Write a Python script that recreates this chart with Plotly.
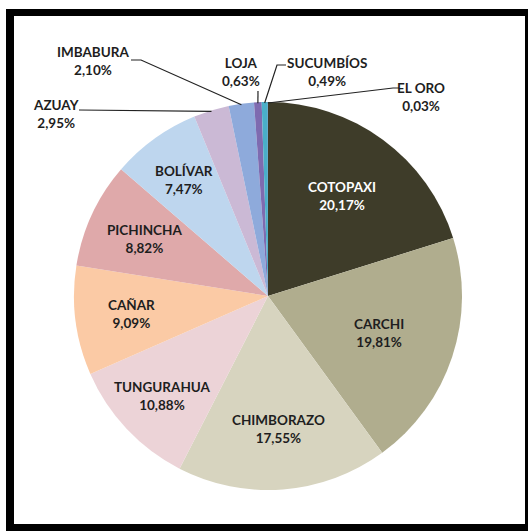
import math
import plotly.graph_objects as go

# Share by province (%)
provinces = ["COTOPAXI", "CARCHI", "CHIMBORAZO", "TUNGURAHUA", "CAÑAR", "PICHINCHA",
             "BOLÍVAR", "AZUAY", "IMBABURA", "LOJA", "SUCUMBÍOS", "EL ORO"]
shares = [20.17, 19.81, 17.55, 10.88, 9.09, 8.82, 7.47, 2.95, 2.10, 0.63, 0.49, 0.03]
colors = ["#3e3c29", "#b0ad8e", "#d7d4bf", "#ecd3d7", "#fbcaa5", "#dfa9aa",
          "#bed6ee", "#cbb9d5", "#8eaadb", "#7e6bb0", "#4aafc8", "#2e75b6"]

W, H = 528, 531
CX, CY, R = 268, 296, 194  # pie centre and radius in pixels


def px(x):
    return x / W


def py(y):
    return 1 - y / H


def pct(v):
    return f"{v:.2f}".replace(".", ",") + "%"


total = sum(shares)
mid_angles = []
acc = 0.0
for v in shares:
    mid_angles.append((acc + v / 2) / total * 2 * math.pi)
    acc += v


def on_pie(i, frac):
    a = mid_angles[i]
    return CX + frac * R * math.sin(a), CY - frac * R * math.cos(a)


fig = go.Figure(go.Pie(
    labels=provinces,
    values=shares,
    sort=False,
    direction="clockwise",
    rotation=0,
    marker=dict(colors=colors, line=dict(width=0)),
    textinfo="none",
    hoverinfo="label+percent",
    domain=dict(x=[px(CX - R), px(CX + R)], y=[py(CY + R), py(CY - R)]),
    showlegend=False,
))

font = dict(family="Lato", size=13.5, color="#1e1e1e")
annotations = []

# labels drawn inside the large slices (radial fraction of the radius)
inside_frac = {0: 0.64, 1: 0.60, 2: 0.69, 3: 0.75, 4: 0.71, 5: 0.70, 6: 0.74}
for i, f in inside_frac.items():
    x, y = on_pie(i, f)
    fnt = dict(font)
    if i == 0:
        fnt["color"] = "#ffffff"
    annotations.append(dict(
        x=px(x), y=py(y), xref="paper", yref="paper",
        text=f"<b>{provinces[i]}</b><br><b>{pct(shares[i])}</b>",
        showarrow=False, font=fnt, align="center",
        xanchor="center", yanchor="middle",
    ))

# small slices: labels outside with leader lines
outside = {
    7: ((56, 114), [(79, 110)]),
    8: ((93, 61), [(131, 60), (141, 60)]),
    9: ((241, 72), [(258, 91)]),
    10: ((327, 72), [(286, 65), (277, 65)]),
    11: ((421, 97), [(399, 88), (393, 88)]),
}
shapes = []
for i, ((lx, ly), pts) in outside.items():
    annotations.append(dict(
        x=px(lx), y=py(ly), xref="paper", yref="paper",
        text=f"<b>{provinces[i]}</b><br><b>{pct(shares[i])}</b>",
        showarrow=False, font=font, align="center",
        xanchor="center", yanchor="middle",
    ))
    ex, ey = on_pie(i, 0.995)
    path_pts = pts + [(ex, ey)]
    d = "M " + " L ".join(f"{px(a):.5f},{py(b):.5f}" for a, b in path_pts)
    shapes.append(dict(type="path", path=d, xref="paper", yref="paper",
                       line=dict(color="#222222", width=1.2)))

# black frame around the chart
for x0, y0, x1, y1 in [(6, 9, 14, 531), (6, 9, 528, 16), (525, 9, 528, 531), (6, 524, 528, 531)]:
    shapes.append(dict(type="rect", xref="paper", yref="paper",
                       x0=px(x0), x1=px(x1), y0=py(y1), y1=py(y0),
                       fillcolor="black", line=dict(width=0), layer="above"))

fig.update_layout(
    width=W, height=H,
    margin=dict(l=0, r=0, t=0, b=0),
    paper_bgcolor="white",
    plot_bgcolor="white",
    annotations=annotations,
    shapes=shapes,
)

fig.write_html("out.html")
